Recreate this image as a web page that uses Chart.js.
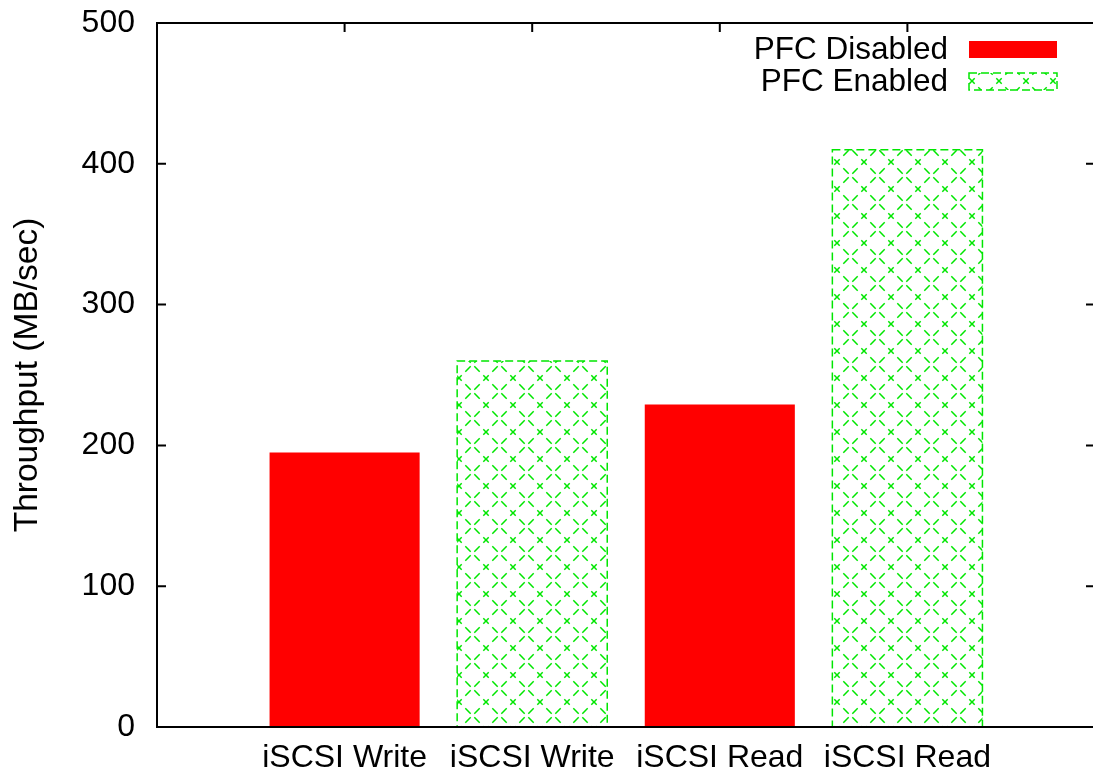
<!DOCTYPE html>
<html>
<head>
<meta charset="utf-8">
<script src="https://cdn.jsdelivr.net/npm/chart.js@4.4.0/dist/chart.umd.min.js"></script>
<style>
html, body { margin: 0; padding: 0; background: #fff; overflow: hidden; }
#wrap { width: 1097px; height: 778px; }
</style>
</head>
<body>
<div id="wrap"><canvas id="chart" width="1097" height="778"></canvas></div>
<script>
var categories = ['iSCSI Write', 'iSCSI Write', 'iSCSI Read', 'iSCSI Read'];
var pfcDisabled = [195, null, 229, null];
var pfcEnabled = [null, 260, null, 410];
var seriesLabels = ['PFC Disabled', 'PFC Enabled'];
var yTicks = [0, 100, 200, 300, 400, 500];

var FONT = '"Liberation Sans", Arial, Helvetica, sans-serif';
var RED = '#ff0000';
var GREEN = '#00e600';

// dashed cross-hatch, like gnuplot's pattern fill
function makeHatch(ctx) {
    var size = 27;
    var tile = document.createElement('canvas');
    tile.width = size;
    tile.height = size;
    var t = tile.getContext('2d');
    var diag = Math.sqrt(2) * size;
    var period = diag / 3;

    t.fillStyle = '#fff';
    t.fillRect(0, 0, size, size);
    t.strokeStyle = GREEN;
    t.lineWidth = 1.5;
    t.setLineDash([period * 0.6, period * 0.4]);
    t.lineDashOffset = period * 0.3;
    t.beginPath();
    t.moveTo(0, 0);
    t.lineTo(size, size);
    t.moveTo(size, 0);
    t.lineTo(0, size);
    t.stroke();

    return ctx.createPattern(tile, 'repeat');
}

function toPoints(values) {
    return values.map(function (v, i) {
        return { x: i + 1, y: v };
    });
}

var canvas = document.getElementById('chart');
var hatch = makeHatch(canvas.getContext('2d'));

function dashedBox(ctx, x, y, w, h) {
    ctx.save();
    ctx.strokeStyle = GREEN;
    ctx.lineWidth = 1.5;
    ctx.setLineDash([8, 4]);
    ctx.strokeRect(x, y, w, h);
    ctx.restore();
}

var framePlugin = {
    id: 'frame',
    beforeDatasetsDraw: function (chart) {
        var ctx = chart.ctx;
        var a = chart.chartArea;
        var xs = chart.scales.x;
        var ys = chart.scales.y;

        ctx.save();
        ctx.strokeStyle = '#000';
        ctx.lineWidth = 2;
        ctx.beginPath();
        yTicks.forEach(function (v) {
            var py = ys.getPixelForValue(v);
            ctx.moveTo(a.left, py);
            ctx.lineTo(a.left + 9, py);
            ctx.moveTo(a.right, py);
            ctx.lineTo(a.right - 9, py);
        });
        categories.forEach(function (c, i) {
            var px = xs.getPixelForValue(i + 1);
            ctx.moveTo(px, a.top);
            ctx.lineTo(px, a.top + 9);
            ctx.moveTo(px, a.bottom);
            ctx.lineTo(px, a.bottom - 9);
        });
        ctx.stroke();
        ctx.restore();
    },
    afterDatasetsDraw: function (chart) {
        var ctx = chart.ctx;
        var a = chart.chartArea;

        // outline of the hatched bars
        chart.getDatasetMeta(1).data.forEach(function (el, i) {
            if (pfcEnabled[i] === null) {
                return;
            }
            var p = el.getProps(['x', 'y', 'base', 'width'], true);
            dashedBox(ctx, p.x - p.width / 2, p.y, p.width, p.base - p.y);
        });

        // border
        ctx.save();
        ctx.strokeStyle = '#000';
        ctx.lineWidth = 2;
        ctx.strokeRect(a.left, a.top, a.right - a.left, a.bottom - a.top);
        ctx.restore();

        // key, top right
        ctx.save();
        ctx.font = '31.5px ' + FONT;
        ctx.fillStyle = '#000';
        ctx.textAlign = 'right';
        ctx.textBaseline = 'middle';
        ctx.fillText(seriesLabels[0], 948, 50);
        ctx.fillText(seriesLabels[1], 948, 82);
        ctx.fillStyle = RED;
        ctx.fillRect(969, 41, 88, 17);
        ctx.fillStyle = hatch;
        ctx.fillRect(969, 73, 88, 17);
        dashedBox(ctx, 969, 73, 88, 17);
        ctx.restore();
    }
};

new Chart(canvas, {
    type: 'bar',
    data: {
        datasets: [{
            label: seriesLabels[0],
            data: toPoints(pfcDisabled),
            backgroundColor: RED,
            borderWidth: 0
        }, {
            label: seriesLabels[1],
            data: toPoints(pfcEnabled),
            backgroundColor: hatch,
            borderWidth: 0
        }]
    },
    options: {
        responsive: false,
        animation: false,
        devicePixelRatio: 1,
        grouped: false,
        barPercentage: 0.8,
        categoryPercentage: 1,
        layout: { padding: { top: 23, right: 2, left: 0, bottom: 0 } },
        plugins: {
            legend: { display: false },
            tooltip: { enabled: false }
        },
        scales: {
            x: {
                type: 'linear',
                offset: false,
                min: 0,
                max: 5,
                grid: { display: false, drawTicks: false, tickLength: 0 },
                border: { display: false },
                ticks: {
                    stepSize: 1,
                    maxRotation: 0,
                    autoSkip: false,
                    padding: 12,
                    color: '#000',
                    font: { family: FONT, size: 32 },
                    callback: function (v) {
                        return categories[v - 1] || '';
                    }
                },
                afterFit: function (s) {
                    s.height = 51;
                    s.paddingLeft = 0;
                    s.paddingRight = 0;
                }
            },
            y: {
                min: 0,
                max: 500,
                grid: { display: false, drawTicks: false, tickLength: 0 },
                border: { display: false },
                ticks: {
                    stepSize: 100,
                    padding: 22,
                    color: '#000',
                    font: { family: FONT, size: 32 }
                },
                title: {
                    display: true,
                    text: 'Throughput (MB/sec)',
                    color: '#000',
                    font: { family: FONT, size: 33.5 },
                    padding: { top: 8, bottom: 0 }
                },
                afterFit: function (s) {
                    s.width = 157;
                    s.paddingTop = 0;
                    s.paddingBottom = 0;
                }
            }
        }
    },
    plugins: [framePlugin]
});
</script>
</body>
</html>
